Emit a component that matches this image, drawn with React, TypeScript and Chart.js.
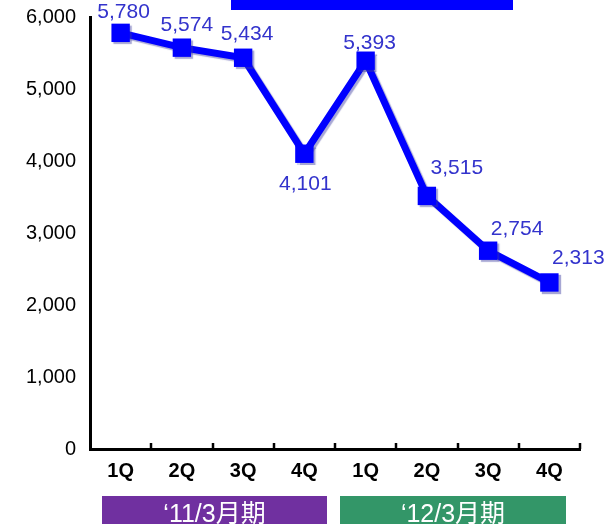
import React, { useEffect, useRef } from "react";
import { Chart, registerables } from "chart.js";

Chart.register(...registerables);

const categories = ["1Q", "2Q", "3Q", "4Q", "1Q", "2Q", "3Q", "4Q"];
const values = [5780, 5574, 5434, 4101, 5393, 3515, 2754, 2313];
const yTicks = [0, 1000, 2000, 3000, 4000, 5000, 6000];
const periods = ["\u201811/3\u6708\u671f", "\u201812/3\u6708\u671f"];
const titleText = "\u55b6\u696d\u5229\u76ca";

// label placement (offset from point centre)
const labelDx = [3, 5, 4, 1, 4, 30, 29, 29];
const labelDy = [-21, -22, -24, 30, -18, -28, -22, -24];

const fmt = (v: number) => v.toLocaleString("en-US");

const overlayPlugin = {
  id: "overlay",
  beforeDatasetsDraw(chart: any) {
    const ctx = chart.ctx;
    const x = chart.scales.x;
    const area = chart.chartArea;
    ctx.save();
    ctx.strokeStyle = "#000";
    ctx.lineWidth = 2.5;
    const n = categories.length;
    const w = x.getPixelForValue(1) - x.getPixelForValue(0);
    for (let i = 1; i <= n; i++) {
      const px = Math.round(x.getPixelForValue(i - 1) + w / 2);
      ctx.beginPath();
      ctx.moveTo(px, area.bottom);
      ctx.lineTo(px, area.bottom - 6);
      ctx.stroke();
    }
    ctx.restore();
  },
  beforeDatasetDraw(chart: any) {
    const ctx = chart.ctx;
    ctx.save();
    ctx.shadowColor = "rgba(60,60,160,0.45)";
    ctx.shadowOffsetX = 2;
    ctx.shadowOffsetY = 2;
    ctx.shadowBlur = 1;
  },
  afterDatasetDraw(chart: any) {
    chart.ctx.restore();
  },
  afterDraw(chart: any) {
    const ctx = chart.ctx;
    const meta = chart.getDatasetMeta(0);
    ctx.save();
    ctx.font = "21px 'Liberation Sans', Arial, sans-serif";
    ctx.fillStyle = "#3333cc";
    ctx.textAlign = "center";
    ctx.textBaseline = "middle";
    meta.data.forEach((pt: any, i: number) => {
      ctx.fillText(fmt(values[i]), pt.x + labelDx[i], pt.y + labelDy[i]);
    });

    // title box (cut off at top)
    ctx.fillStyle = "#0000ff";
    ctx.fillRect(231, 0, 282, 10);
    ctx.fillStyle = "#ffffff";
    ctx.font = "bold 34px 'Noto Sans CJK JP', sans-serif";
    ctx.textBaseline = "alphabetic";
    ctx.fillText(titleText, 372, -4);

    // period boxes
    const boxes = [
      { l: 102, r: 327, color: "#7030a0" },
      { l: 340, r: 566, color: "#339668" },
    ];
    boxes.forEach((b, i) => {
      ctx.fillStyle = b.color;
      ctx.fillRect(b.l, 496, b.r - b.l, 28);
      ctx.fillStyle = "#ffffff";
      ctx.font = "25px 'Liberation Sans', 'Noto Sans CJK JP', sans-serif";
      ctx.textAlign = "center";
      ctx.textBaseline = "middle";
      ctx.fillText(periods[i], (b.l + b.r) / 2, 515);
    });
    ctx.restore();
  },
};

export default function App() {
  const ref = useRef<HTMLCanvasElement | null>(null);
  useEffect(() => {
    if (!ref.current) return;
    const chart = new Chart(ref.current, {
      type: "line",
      data: {
        labels: categories,
        datasets: [
          {
            data: values,
            borderColor: "#0000ff",
            backgroundColor: "#0000ff",
            borderWidth: 7,
            pointStyle: "rect",
            pointRadius: 13,
            pointHoverRadius: 13,
            pointBorderWidth: 0,
            tension: 0,
          },
        ],
      },
      options: {
        animation: false,
        responsive: false,
        events: [],
        layout: { autoPadding: false, padding: { top: 17, right: 26, left: 0, bottom: 0 } },
        plugins: { legend: { display: false }, tooltip: { enabled: false }, title: { display: false } },
        scales: {
          x: {
            offset: true,
            grid: { display: false, drawTicks: false },
            border: { display: true, color: "#000", width: 3 },
            ticks: {
              color: "#000",
              padding: 10,
              font: { family: "'Liberation Sans', Arial, sans-serif", size: 20, weight: "bold" },
            },
            afterFit: (s: any) => {
              s.height = 75;
              s.paddingLeft = 0;
              s.paddingRight = 0;
            },
          },
          y: {
            min: 0,
            max: 6000,
            afterBuildTicks: (s: any) => {
              s.ticks = yTicks.map((v) => ({ value: v }));
            },
            grid: { display: false, drawTicks: false },
            border: { display: true, color: "#000", width: 3 },
            ticks: {
              color: "#000",
              padding: 14,
              font: { family: "'Liberation Sans', Arial, sans-serif", size: 20 },
              callback: (v: any) => fmt(Number(v)),
            },
            afterFit: (s: any) => {
              s.width = 90;
              s.paddingTop = 0;
              s.paddingBottom = 0;
            },
          },
        },
      },
      plugins: [overlayPlugin],
    });
    return () => chart.destroy();
  }, []);
  return (
    <div style={{ position: "absolute", left: 0, top: 0, width: 606, height: 524, background: "#fff" }}>
      <canvas ref={ref} width={606} height={524} style={{ display: "block" }} />
    </div>
  );
}
